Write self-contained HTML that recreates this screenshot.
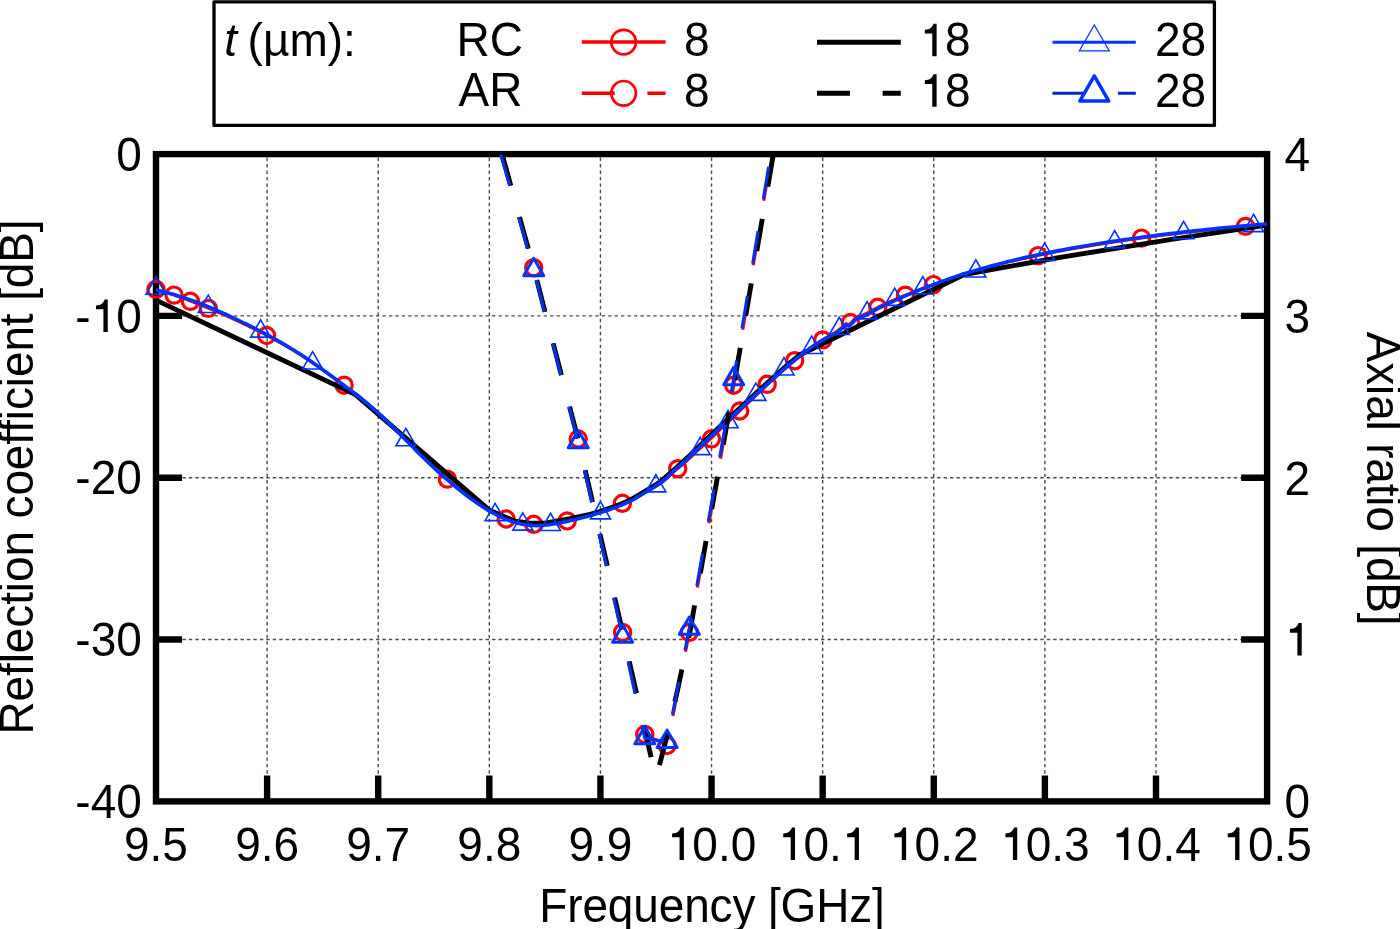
<!DOCTYPE html>
<html><head><meta charset="utf-8"><title>Reflection coefficient and axial ratio</title>
<style>
html,body{margin:0;padding:0;background:#fff;}
body{width:1400px;height:929px;overflow:hidden;}
svg{display:block;font-family:"Liberation Sans",sans-serif;font-size:46px;will-change:transform;}
</style></head><body>
<svg width="1400" height="929" viewBox="0 0 1400 929">
<rect width="1400" height="929" fill="#fff"/>
<defs><path id="one" d="M0.278 0L0.372 0L0.372 -0.685L0.303 -0.685C0.283 -0.615 0.225 -0.562 0.116 -0.559L0.116 -0.480L0.278 -0.480Z"/></defs><path d="M267.11 157.60V798.40M378.22 157.60V798.40M489.33 157.60V798.40M600.44 157.60V798.40M711.55 157.60V798.40M822.66 157.60V798.40M933.77 157.60V798.40M1044.88 157.60V798.40M1155.99 157.60V798.40M156.65 315.92H1264.10M156.65 477.75H1264.10M156.65 639.57H1264.10" stroke="#4a4a4a" stroke-width="1.4" stroke-dasharray="3.4 3.05" fill="none"/><path d="M267.11 801.40V775.40M378.22 801.40V775.40M489.33 801.40V775.40M600.44 801.40V775.40M711.55 801.40V775.40M822.66 801.40V775.40M933.77 801.40V775.40M1044.88 801.40V775.40M1155.99 801.40V775.40M156.00 315.92H182.00M1267.10 315.92H1241.10M156.00 477.75H182.00M1267.10 477.75H1241.10M156.00 639.57H182.00M1267.10 639.57H1241.10" stroke="#000" stroke-width="6.4" fill="none"/><rect x="156.0" y="154.1" width="1111.1" height="647.3" fill="none" stroke="#000" stroke-width="6.4"/><path d="M156.00 289.62L159.00 290.41L162.00 291.25L165.00 292.13L168.00 293.05L171.00 294.00L174.00 295.00L177.00 296.05L180.00 297.12L183.00 298.24L186.00 299.38L189.00 300.57L192.00 301.72L195.00 302.84L198.00 304.00L201.00 305.17L204.00 306.39L207.00 307.63L210.00 308.86L213.00 310.10L216.00 311.35L219.00 312.63L222.00 313.93L225.00 315.25L228.00 316.60L231.00 317.96L234.00 319.34L237.00 320.73L240.00 322.14L243.00 323.57L246.00 325.01L249.00 326.46L252.00 327.93L255.00 329.43L258.00 330.94L261.00 332.46L264.00 334.01L267.00 335.58L270.00 337.17L273.00 338.78L276.00 340.42L279.00 342.08L282.00 343.77L285.00 345.48L288.00 347.23L291.00 349.02L294.00 350.82L297.00 352.66L300.00 354.53L303.00 356.44L306.00 358.39L309.00 360.37L312.00 362.39L315.00 364.44L318.00 366.53L321.00 368.65L324.00 370.78L327.00 372.94L330.00 375.10L333.00 377.28L336.00 379.45L339.00 381.63L342.00 383.82L345.00 386.03L348.00 388.27L351.00 390.52L354.00 392.81L357.00 395.13L360.00 397.47L363.00 399.87L366.00 402.32L369.00 404.80L372.00 407.35L375.00 409.96L378.00 412.64L381.00 415.37L384.00 418.18L387.00 421.04L390.00 423.94L393.00 426.88L396.00 429.86L399.00 432.86L402.00 435.89L405.00 438.92L408.00 441.96L411.00 444.99L414.00 448.02L417.00 451.03L420.00 454.01L423.00 456.96L426.00 459.88L429.00 462.74L432.00 465.58L435.00 468.37L438.00 471.12L441.00 473.82L444.00 476.48L447.00 479.09L450.00 481.66L453.00 484.17L456.00 486.64L459.00 489.06L462.00 491.43L465.00 493.74L468.00 496.00L471.00 498.20L474.00 500.35L477.00 502.43L480.00 504.45L483.00 506.40L486.00 508.28L489.00 510.07L492.00 511.78L495.00 513.41L498.00 514.95L501.00 516.40L504.00 517.74L507.00 518.98L510.00 520.10L513.00 521.11L516.00 522.01L519.00 522.79L522.00 523.45L525.00 523.97L528.00 524.37L531.00 524.63L534.00 524.76L537.00 524.77L540.00 524.67L543.00 524.47L546.00 524.17L549.00 523.80L552.00 523.36L555.00 522.86L558.00 522.31L561.00 521.73L564.00 521.13L567.00 520.50L570.00 519.87L573.00 519.21L576.00 518.53L579.00 517.81L582.00 517.07L585.00 516.31L588.00 515.51L591.00 514.67L594.00 513.82L597.00 512.93L600.00 512.02L603.00 511.07L606.00 510.09L609.00 509.08L612.00 508.04L615.00 506.97L618.00 505.86L621.00 504.72L624.00 503.55L627.00 502.33L630.00 501.00L633.00 499.54L636.00 497.94L639.00 496.15L642.00 494.31L645.00 492.56L648.00 490.88L651.00 489.22L654.00 487.51L657.00 485.71L660.00 483.73L663.00 481.54L666.00 479.08L669.00 476.28L672.00 473.34L675.00 470.61L678.00 468.32L681.00 465.89L684.00 463.32L687.00 460.63L690.00 457.87L693.00 455.07L696.00 452.26L699.00 449.48L702.00 446.69L705.00 443.93L708.00 441.17L711.00 438.43L714.00 435.55L717.00 432.65L720.00 429.76L723.00 426.88L726.00 424.01L729.00 421.15L732.00 418.29L735.00 415.43L738.00 412.60L741.00 409.74L744.00 406.87L747.00 404.00L750.00 401.14L753.00 398.29L756.00 395.43L759.00 392.58L762.00 389.73L765.00 386.89L768.00 384.06L771.00 381.31L774.00 378.55L777.00 375.83L780.00 373.11L783.00 370.44L786.00 367.80L789.00 365.19L792.00 362.64L795.00 360.12L798.00 357.61L801.00 355.15L804.00 352.77L807.00 350.45L810.00 348.20L813.00 346.04L816.00 343.95L819.00 341.95L822.00 340.04L825.00 338.21L828.00 336.46L831.00 334.81L834.00 333.10L837.00 331.21L840.00 328.97L843.00 326.24L846.00 323.56L849.00 324.57L852.00 321.86L855.00 318.28L858.00 316.52L861.00 315.63L864.00 314.48L867.00 313.07L870.00 311.50L873.00 309.85L876.00 308.22L879.00 306.68L882.00 305.23L885.00 303.84L888.00 302.48L891.00 301.17L894.00 299.88L897.00 298.62L900.00 297.38L903.00 296.15L906.00 294.93L909.00 293.74L912.00 292.56L915.00 291.39L918.00 290.26L921.00 289.13L924.00 288.02L927.00 286.92L930.00 285.85L933.00 284.80L936.00 283.70L939.00 282.61L942.00 281.54L945.00 280.50L948.00 279.46L951.00 278.44L954.00 277.44L957.00 276.46L960.00 275.49L963.00 274.54L966.00 273.61L969.00 272.69L972.00 271.79L975.00 270.90L978.00 270.03L981.00 269.17L984.00 268.33L987.00 267.51L990.00 266.69L993.00 265.89L996.00 265.11L999.00 264.33L1002.00 263.58L1005.00 262.83L1008.00 262.09L1011.00 261.38L1014.00 260.67L1017.00 259.97L1020.00 259.28L1023.00 258.61L1026.00 257.94L1029.00 257.29L1032.00 256.66L1035.00 256.02L1038.00 255.40L1041.00 254.77L1044.00 254.16L1047.00 253.55L1050.00 252.95L1053.00 252.37L1056.00 251.79L1059.00 251.22L1062.00 250.66L1065.00 250.10L1068.00 249.55L1071.00 249.02L1074.00 248.48L1077.00 247.95L1080.00 247.44L1083.00 246.92L1086.00 246.42L1089.00 245.92L1092.00 245.42L1095.00 244.94L1098.00 244.45L1101.00 243.97L1104.00 243.51L1107.00 243.04L1110.00 242.57L1113.00 242.12L1116.00 241.67L1119.00 241.22L1122.00 240.79L1125.00 240.35L1128.00 239.93L1131.00 239.51L1134.00 239.08L1137.00 238.68L1140.00 238.27L1143.00 237.86L1146.00 237.46L1149.00 237.05L1152.00 236.66L1155.00 236.27L1158.00 235.88L1161.00 235.50L1164.00 235.13L1167.00 234.75L1170.00 234.39L1173.00 234.03L1176.00 233.66L1179.00 233.31L1182.00 232.96L1185.00 232.61L1188.00 232.27L1191.00 231.94L1194.00 231.60L1197.00 231.27L1200.00 230.95L1203.00 230.62L1206.00 230.31L1209.00 229.99L1212.00 229.68L1215.00 229.37L1218.00 229.07L1221.00 228.77L1224.00 228.47L1227.00 228.19L1230.00 227.89L1233.00 227.61L1236.00 227.33L1239.00 227.04L1242.00 226.77L1245.00 226.50L1248.00 226.23L1251.00 225.96L1254.00 225.70L1257.00 225.44L1260.00 225.19L1263.00 224.94L1267.10 224.59" fill="none" stroke="#ff0000" stroke-width="3" stroke-linejoin="round"/><g fill="none" stroke="#ff0000" stroke-width="3.2"><circle cx="156.00" cy="289.30" r="8.1"/><circle cx="174.00" cy="295.10" r="8.1"/><circle cx="190.40" cy="301.30" r="8.1"/><circle cx="208.30" cy="308.40" r="8.1"/><circle cx="266.60" cy="335.50" r="8.1"/><circle cx="344.10" cy="385.20" r="8.1"/><circle cx="447.30" cy="479.10" r="8.1"/><circle cx="506.20" cy="519.00" r="8.1"/><circle cx="533.70" cy="524.30" r="8.1"/><circle cx="567.20" cy="520.90" r="8.1"/><circle cx="622.40" cy="503.30" r="8.1"/><circle cx="677.70" cy="468.70" r="8.1"/><circle cx="711.50" cy="438.80" r="8.1"/><circle cx="739.70" cy="411.00" r="8.1"/><circle cx="767.20" cy="384.30" r="8.1"/><circle cx="794.70" cy="360.70" r="8.1"/><circle cx="822.80" cy="339.90" r="8.1"/><circle cx="850.40" cy="322.50" r="8.1"/><circle cx="877.80" cy="307.30" r="8.1"/><circle cx="905.40" cy="295.20" r="8.1"/><circle cx="933.50" cy="284.60" r="8.1"/><circle cx="1038.10" cy="255.60" r="8.1"/><circle cx="1141.50" cy="238.10" r="8.1"/><circle cx="1245.50" cy="226.40" r="8.1"/></g><path d="M156.00 300.10L355.50 394.60L489.60 510.30L515.00 521.20L530.00 523.10L545.00 523.10L570.00 518.60L590.00 514.47L600.00 511.48L610.00 508.13L620.00 504.43L630.00 500.11L640.00 494.38L650.00 488.35L660.00 482.04L670.00 473.34L680.00 464.46L690.00 455.28L700.00 445.61L710.00 436.05L720.00 426.60L730.00 417.26L740.00 407.99L750.00 398.79L760.00 389.64L770.00 380.52L780.00 371.52L790.00 362.86L800.00 354.70L964.00 274.50L1060.00 257.40L1170.00 239.60L1267.10 225.10" fill="none" stroke="#000" stroke-width="4.9" stroke-linejoin="round"/><path d="M156.00 290.08L159.00 290.72L162.00 291.42L165.00 292.15L168.00 292.93L171.00 293.74L174.00 294.59L177.00 295.49L180.00 296.41L183.00 297.38L186.00 298.37L189.00 299.41L192.00 300.47L195.00 301.56L198.00 302.69L201.00 303.84L204.00 305.03L207.00 306.24L210.00 307.47L213.00 308.74L216.00 310.02L219.00 311.33L222.00 312.66L225.00 314.01L228.00 315.38L231.00 316.77L234.00 318.18L237.00 319.60L240.00 321.04L243.00 322.50L246.00 323.97L249.00 325.45L252.00 326.95L255.00 328.47L258.00 330.01L261.00 331.56L264.00 333.14L267.00 334.74L270.00 336.36L273.00 338.01L276.00 339.68L279.00 341.38L282.00 343.10L285.00 344.85L288.00 346.63L291.00 348.45L294.00 350.29L297.00 352.16L300.00 354.07L303.00 356.01L306.00 357.99L309.00 360.01L312.00 362.06L315.00 364.15L318.00 366.27L321.00 368.42L324.00 370.59L327.00 372.78L330.00 374.98L333.00 377.19L336.00 379.40L339.00 381.61L342.00 383.83L345.00 386.07L348.00 388.32L351.00 390.59L354.00 392.89L357.00 395.22L360.00 397.58L363.00 399.99L366.00 402.45L369.00 404.95L372.00 407.51L375.00 410.13L378.00 412.82L381.00 415.57L384.00 418.39L387.00 421.26L390.00 424.18L393.00 427.13L396.00 430.12L399.00 433.14L402.00 436.18L405.00 439.22L408.00 442.27L411.00 445.32L414.00 448.36L417.00 451.38L420.00 454.38L423.00 457.34L426.00 460.27L429.00 463.15L432.00 466.00L435.00 468.80L438.00 471.56L441.00 474.28L444.00 476.95L447.00 479.57L450.00 482.15L453.00 484.67L456.00 487.15L459.00 489.58L462.00 491.95L465.00 494.27L468.00 496.54L471.00 498.75L474.00 500.90L477.00 502.99L480.00 505.02L483.00 506.98L486.00 508.86L489.00 510.66L492.00 512.38L495.00 514.02L498.00 515.57L501.00 517.02L504.00 518.37L507.00 519.62L510.00 520.76L513.00 521.79L516.00 522.71L519.00 523.50L522.00 524.18L525.00 524.72L528.00 525.14L531.00 525.42L534.00 525.56L537.00 525.58L540.00 525.48L543.00 525.29L546.00 525.00L549.00 524.63L552.00 524.20L555.00 523.70L558.00 523.16L561.00 522.59L564.00 521.99L567.00 521.37L570.00 520.72L573.00 520.04L576.00 519.34L579.00 518.60L582.00 517.84L585.00 517.06L588.00 516.24L591.00 515.39L594.00 514.52L597.00 513.61L600.00 512.68L603.00 511.71L606.00 510.71L609.00 509.68L612.00 508.62L615.00 507.53L618.00 506.40L621.00 505.24L624.00 504.02L627.00 502.72L630.00 501.31L633.00 499.77L636.00 498.09L639.00 496.22L642.00 494.30L645.00 492.47L648.00 490.71L651.00 488.97L654.00 487.18L657.00 485.30L660.00 483.24L663.00 480.97L666.00 478.43L669.00 475.55L672.00 472.53L675.00 469.73L678.00 467.35L681.00 464.82L684.00 462.14L687.00 459.35L690.00 456.48L693.00 453.57L696.00 450.66L699.00 447.77L702.00 444.88L705.00 442.01L708.00 439.15L711.00 436.30L714.00 433.46L717.00 430.63L720.00 427.80L723.00 424.99L726.00 422.19L729.00 419.39L732.00 416.60L735.00 413.81L738.00 411.04L741.00 408.27L744.00 405.50L747.00 402.74L750.00 399.99L753.00 397.24L756.00 394.49L759.00 391.75L762.00 389.01L765.00 386.27L768.00 383.53L771.00 380.81L774.00 378.09L777.00 375.40L780.00 372.72L783.00 370.08L786.00 367.47L789.00 364.90L792.00 362.38L795.00 359.90L798.00 357.48L801.00 355.11L804.00 352.81L807.00 350.58L810.00 348.42L813.00 346.34L816.00 344.34L819.00 342.43L822.00 340.60L825.00 338.88L828.00 337.25L831.00 335.71L834.00 334.12L837.00 332.34L840.00 330.22L843.00 327.60L846.00 325.04L849.00 326.16L852.00 323.50L855.00 319.91L858.00 318.13L861.00 317.23L864.00 316.07L867.00 314.65L870.00 313.06L873.00 311.40L876.00 309.76L879.00 308.17L882.00 306.64L885.00 305.16L888.00 303.71L891.00 302.31L894.00 300.93L897.00 299.58L900.00 298.25L903.00 296.93L906.00 295.63L909.00 294.35L912.00 293.09L915.00 291.84L918.00 290.62L921.00 289.41L924.00 288.22L927.00 287.04L930.00 285.88L933.00 284.75L936.00 283.62L939.00 282.52L942.00 281.43L945.00 280.37L948.00 279.32L951.00 278.28L954.00 277.27L957.00 276.27L960.00 275.28L963.00 274.32L966.00 273.37L969.00 272.43L972.00 271.52L975.00 270.61L978.00 269.72L981.00 268.85L984.00 267.99L987.00 267.15L990.00 266.32L993.00 265.50L996.00 264.70L999.00 263.91L1002.00 263.14L1005.00 262.37L1008.00 261.62L1011.00 260.89L1014.00 260.16L1017.00 259.45L1020.00 258.74L1023.00 258.05L1026.00 257.37L1029.00 256.70L1032.00 256.05L1035.00 255.40L1038.00 254.76L1041.00 254.13L1044.00 253.51L1047.00 252.90L1050.00 252.30L1053.00 251.71L1056.00 251.13L1059.00 250.56L1062.00 249.99L1065.00 249.43L1068.00 248.88L1071.00 248.34L1074.00 247.80L1077.00 247.27L1080.00 246.75L1083.00 246.23L1086.00 245.72L1089.00 245.22L1092.00 244.72L1095.00 244.23L1098.00 243.74L1101.00 243.26L1104.00 242.79L1107.00 242.32L1110.00 241.85L1113.00 241.39L1116.00 240.94L1119.00 240.49L1122.00 240.05L1125.00 239.61L1128.00 239.18L1131.00 238.76L1134.00 238.33L1137.00 237.92L1140.00 237.51L1143.00 237.10L1146.00 236.70L1149.00 236.30L1152.00 235.91L1155.00 235.52L1158.00 235.14L1161.00 234.76L1164.00 234.39L1167.00 234.02L1170.00 233.66L1173.00 233.30L1176.00 232.94L1179.00 232.59L1182.00 232.24L1185.00 231.90L1188.00 231.56L1191.00 231.23L1194.00 230.90L1197.00 230.57L1200.00 230.25L1203.00 229.93L1206.00 229.62L1209.00 229.30L1212.00 229.00L1215.00 228.69L1218.00 228.39L1221.00 228.10L1224.00 227.80L1227.00 227.52L1230.00 227.23L1233.00 226.95L1236.00 226.67L1239.00 226.39L1242.00 226.12L1245.00 225.85L1248.00 225.58L1251.00 225.32L1254.00 225.06L1257.00 224.80L1260.00 224.54L1263.00 224.29L1267.10 223.95" fill="none" stroke="#0033ff" stroke-width="3.6" stroke-linejoin="round"/><path d="M156.00 276.95L166.00 294.27L146.00 294.27ZM208.30 295.15L218.30 312.47L198.30 312.47ZM260.60 319.85L270.60 337.17L250.60 337.17ZM312.60 351.65L322.60 368.97L302.60 368.97ZM405.90 428.45L415.90 445.77L395.90 445.77ZM495.10 503.35L505.10 520.67L485.10 520.67ZM522.80 512.85L532.80 530.17L512.80 530.17ZM550.50 513.25L560.50 530.57L540.50 530.57ZM600.50 501.55L610.50 518.87L590.50 518.87ZM655.90 474.55L665.90 491.87L645.90 491.87ZM700.20 437.35L710.20 454.67L690.20 454.67ZM728.10 410.45L738.10 427.77L718.10 427.77ZM755.90 383.05L765.90 400.37L745.90 400.37ZM784.00 357.65L794.00 374.97L774.00 374.97ZM811.70 336.15L821.70 353.47L801.70 353.47ZM839.30 317.25L849.30 334.57L829.30 334.57ZM867.10 301.55L877.10 318.87L857.10 318.87ZM894.70 288.05L904.70 305.37L884.70 305.37ZM922.80 276.55L932.80 293.87L912.80 293.87ZM975.80 259.75L985.80 277.07L965.80 277.07ZM1044.70 243.05L1054.70 260.37L1034.70 260.37ZM1114.70 230.55L1124.70 247.87L1104.70 247.87ZM1183.60 221.45L1193.60 238.77L1173.60 238.77ZM1253.60 214.35L1263.60 231.67L1243.60 231.67Z" fill="none" stroke="#0033ff" stroke-width="1.6"/><g><path d="M501.00 154.00L533.70 267.70L578.20 439.00L622.60 632.40L644.80 734.40L667.10 745.50" fill="none" stroke="#ff0000" stroke-width="3.2" stroke-dasharray="32.7 32.7" stroke-dashoffset="65.2"/><path d="M667.10 745.50L689.30 632.40L733.70 385.20L771.38 154.00" fill="none" stroke="#ff0000" stroke-width="3.2" stroke-dasharray="32.7 32.7" stroke-dashoffset="35.3"/><g fill="none" stroke="#ff0000" stroke-width="3.2"><circle cx="533.70" cy="267.70" r="8.1"/><circle cx="578.20" cy="439.00" r="8.1"/><circle cx="622.60" cy="632.40" r="8.1"/><circle cx="644.80" cy="734.40" r="8.1"/><circle cx="667.10" cy="745.50" r="8.1"/><circle cx="689.30" cy="632.40" r="8.1"/><circle cx="733.70" cy="385.20" r="8.1"/></g><path d="M502.01 154.00L533.70 268.00L578.20 440.00L622.60 632.00L644.80 730.00L656.00 778.00" fill="none" stroke="#000" stroke-width="4.9" stroke-dasharray="32.7 32.7" stroke-dashoffset="65.3"/><path d="M656.00 778.00L667.10 736.00L678.20 687.00L689.30 635.00L733.70 386.00L773.38 154.00" fill="none" stroke="#000" stroke-width="4.9" stroke-dasharray="32.7 32.7" stroke-dashoffset="52.0"/><path d="M500.61 154.00L533.70 269.90L578.20 442.00L622.60 636.40L644.80 738.00L667.10 741.70" fill="none" stroke="#0530e8" stroke-width="3.2" stroke-dasharray="32.7 32.7" stroke-dashoffset="65.2"/><path d="M667.10 741.70L689.30 628.50L733.70 378.90L770.81 154.00" fill="none" stroke="#0530e8" stroke-width="3.2" stroke-dasharray="32.7 32.7" stroke-dashoffset="37.5"/><path d="M533.70 258.35L543.70 275.67L523.70 275.67ZM578.20 430.45L588.20 447.77L568.20 447.77ZM622.60 624.85L632.60 642.17L612.60 642.17ZM644.80 726.45L654.80 743.77L634.80 743.77ZM667.10 730.15L677.10 747.47L657.10 747.47ZM689.30 616.95L699.30 634.27L679.30 634.27ZM733.70 367.35L743.70 384.67L723.70 384.67Z" fill="none" stroke="#0033ff" stroke-width="3" stroke-linejoin="round"/></g><g fill="#000"><g transform="translate(0 170.10) scale(1 1.03) translate(0 -170.10)"><text x="116.22" y="170.80">0</text></g><g transform="translate(0 331.92) scale(1 1.03) translate(0 -331.92)"><text x="75.32" y="332.62">- 0</text><use href="#one" transform="translate(90.63 331.92) scale(46)"/></g><g transform="translate(0 493.75) scale(1 1.03) translate(0 -493.75)"><text x="75.32" y="494.45">-20</text></g><g transform="translate(0 655.57) scale(1 1.03) translate(0 -655.57)"><text x="75.32" y="656.27">-30</text></g><g transform="translate(0 817.40) scale(1 1.03) translate(0 -817.40)"><text x="75.32" y="818.10">-40</text></g><g transform="translate(0 170.30) scale(1 1.03) translate(0 -170.30)"><text x="1284.60" y="171.10">4</text></g><g transform="translate(0 332.12) scale(1 1.03) translate(0 -332.12)"><text x="1284.60" y="332.93">3</text></g><g transform="translate(0 493.95) scale(1 1.03) translate(0 -493.95)"><text x="1284.60" y="494.75">2</text></g><g transform="translate(0 655.78) scale(1 1.03) translate(0 -655.78)"><text x="1284.60" y="656.58"> </text><use href="#one" transform="translate(1284.60 655.48) scale(46)"/></g><g transform="translate(0 817.60) scale(1 1.03) translate(0 -817.60)"><text x="1284.60" y="818.40">0</text></g><g transform="translate(0 860.00) scale(1 1.03) translate(0 -860.00)"><text x="124.03" y="861.10">9.5</text></g><g transform="translate(0 860.00) scale(1 1.03) translate(0 -860.00)"><text x="235.14" y="861.10">9.6</text></g><g transform="translate(0 860.00) scale(1 1.03) translate(0 -860.00)"><text x="346.25" y="861.10">9.7</text></g><g transform="translate(0 860.00) scale(1 1.03) translate(0 -860.00)"><text x="457.36" y="861.10">9.8</text></g><g transform="translate(0 860.00) scale(1 1.03) translate(0 -860.00)"><text x="568.47" y="861.10">9.9</text></g><g transform="translate(0 860.00) scale(1 1.03) translate(0 -860.00)"><text x="666.79" y="861.10"> 0.0</text><use href="#one" transform="translate(666.79 860.00) scale(46)"/></g><g transform="translate(0 860.00) scale(1 1.03) translate(0 -860.00)"><text x="777.90" y="861.10"> 0. </text><use href="#one" transform="translate(777.90 860.00) scale(46)"/><use href="#one" transform="translate(841.84 860.00) scale(46)"/></g><g transform="translate(0 860.00) scale(1 1.03) translate(0 -860.00)"><text x="889.01" y="861.10"> 0.2</text><use href="#one" transform="translate(889.01 860.00) scale(46)"/></g><g transform="translate(0 860.00) scale(1 1.03) translate(0 -860.00)"><text x="1000.12" y="861.10"> 0.3</text><use href="#one" transform="translate(1000.12 860.00) scale(46)"/></g><g transform="translate(0 860.00) scale(1 1.03) translate(0 -860.00)"><text x="1111.23" y="861.10"> 0.4</text><use href="#one" transform="translate(1111.23 860.00) scale(46)"/></g><g transform="translate(0 860.00) scale(1 1.03) translate(0 -860.00)"><text x="1222.34" y="861.10"> 0.5</text><use href="#one" transform="translate(1222.34 860.00) scale(46)"/></g><text transform="translate(712 921.8) scale(1 1.025)" text-anchor="middle" letter-spacing="-0.14">Frequency [GHz]</text><text transform="translate(33.2 477) rotate(-90) scale(1 1.025)" text-anchor="middle" letter-spacing="-0.11">Reflection coefficient [dB]</text><text transform="translate(1366.6 478.6) rotate(90) scale(1 1.025)" text-anchor="middle" letter-spacing="-0.18">Axial ratio [dB]</text></g><g fill="#000"><rect x="214" y="1.8" width="1000.4" height="123.6" fill="#fff" stroke="#000" stroke-width="3.3" stroke-linejoin="round"/><text x="224.3" y="56.3"><tspan font-style="italic">t</tspan><tspan dx="-2.3"> (µm):</tspan></text><g transform="translate(0 56.3) scale(1 1.035) translate(0 -56.3)"><text x="456.5" y="56.3">RC</text></g><g transform="translate(0 106.3) scale(1 1.035) translate(0 -106.3)"><text x="458.5" y="106.3">AR</text></g><g transform="translate(0 56.30) scale(1 1.03) translate(0 -56.30)"><text x="684.00" y="56.30">8</text></g><g transform="translate(0 106.80) scale(1 1.03) translate(0 -106.80)"><text x="684.00" y="106.80">8</text></g><g transform="translate(0 56.30) scale(1 1.03) translate(0 -56.30)"><text x="919.50" y="56.30"> 8</text><use href="#one" transform="translate(919.50 56.30) scale(46)"/></g><g transform="translate(0 106.80) scale(1 1.03) translate(0 -106.80)"><text x="919.50" y="106.80"> 8</text><use href="#one" transform="translate(919.50 106.80) scale(46)"/></g><g transform="translate(0 56.30) scale(1 1.03) translate(0 -56.30)"><text x="1155.00" y="56.30">28</text></g><g transform="translate(0 106.80) scale(1 1.03) translate(0 -106.80)"><text x="1155.00" y="106.80">28</text></g><path d="M581.8 42.1H665.6" stroke="#ff0000" stroke-width="3.5"/><circle cx="623.6" cy="42.1" r="12.3" fill="none" stroke="#ff0000" stroke-width="2.7"/><path d="M581.8 93.3H665.6" stroke="#ff0000" stroke-width="3.5" stroke-dasharray="33 32.6"/><circle cx="623.6" cy="93.3" r="12.3" fill="none" stroke="#ff0000" stroke-width="2.7"/><path d="M817 42.3H900.8" stroke="#000" stroke-width="4.9"/><path d="M817 93.3H900.8" stroke="#000" stroke-width="4.9" stroke-dasharray="33 32.6"/><path d="M1052.5 42.3H1135.8" stroke="#0033ff" stroke-width="3.1"/><path d="M1094.30 24.99L1109.20 50.80L1079.40 50.80Z" fill="none" stroke="#0033ff" stroke-width="1.3"/><path d="M1052.5 93.2H1135.8" stroke="#0024c8" stroke-width="3.1" stroke-dasharray="30.5 35"/><path d="M1094.30 75.96L1108.80 101.07L1079.80 101.07Z" fill="none" stroke="#0033ff" stroke-width="3.5" stroke-linejoin="round"/></g>
</svg>
</body></html>
